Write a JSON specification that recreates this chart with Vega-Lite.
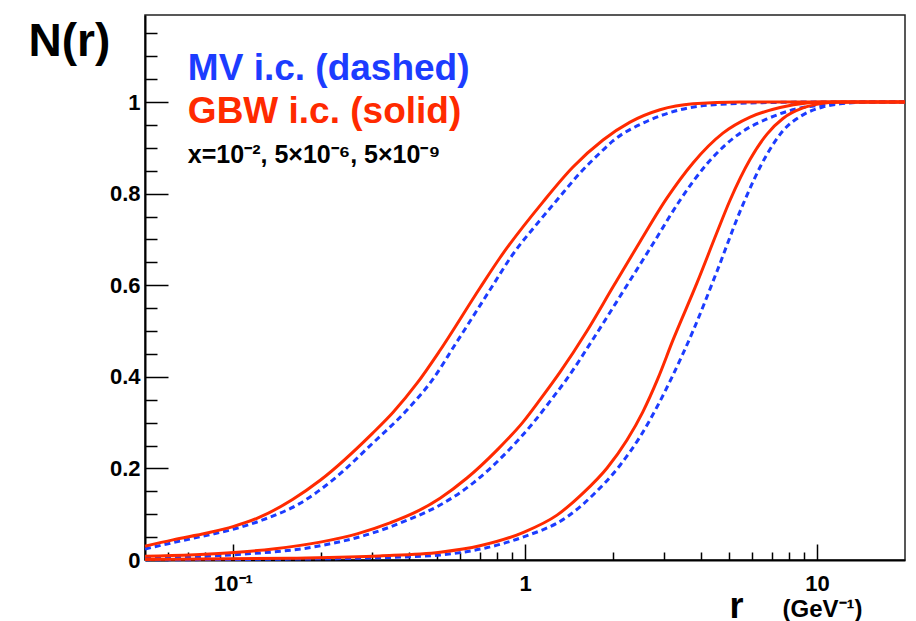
{
  "$schema": "https://vega.github.io/schema/vega-lite/v6.json",
  "width": 760,
  "height": 545,
  "autosize": {"type": "none"},
  "padding": {"left": 145, "top": 15, "right": 11, "bottom": 61},
  "background": "white",
  "config": {
    "view": {"stroke": "#222", "strokeWidth": 1.5},
    "font": "Liberation Sans"
  },
  "datasets": {
    "curves": [
      {"ic": "MV", "x": "1e-2", "r": 0.05, "N": 0.024},
      {"ic": "MV", "x": "1e-2", "r": 0.0623, "N": 0.038},
      {"ic": "MV", "x": "1e-2", "r": 0.0815, "N": 0.054},
      {"ic": "MV", "x": "1e-2", "r": 0.1, "N": 0.067},
      {"ic": "MV", "x": "1e-2", "r": 0.127, "N": 0.088},
      {"ic": "MV", "x": "1e-2", "r": 0.17, "N": 0.124},
      {"ic": "MV", "x": "1e-2", "r": 0.22, "N": 0.175},
      {"ic": "MV", "x": "1e-2", "r": 0.301, "N": 0.255},
      {"ic": "MV", "x": "1e-2", "r": 0.395, "N": 0.328},
      {"ic": "MV", "x": "1e-2", "r": 0.484, "N": 0.395},
      {"ic": "MV", "x": "1e-2", "r": 0.576, "N": 0.47},
      {"ic": "MV", "x": "1e-2", "r": 0.759, "N": 0.59},
      {"ic": "MV", "x": "1e-2", "r": 0.903, "N": 0.665},
      {"ic": "MV", "x": "1e-2", "r": 1.126, "N": 0.742},
      {"ic": "MV", "x": "1e-2", "r": 1.287, "N": 0.786},
      {"ic": "MV", "x": "1e-2", "r": 1.543, "N": 0.845},
      {"ic": "MV", "x": "1e-2", "r": 1.835, "N": 0.893},
      {"ic": "MV", "x": "1e-2", "r": 2.0, "N": 0.915},
      {"ic": "MV", "x": "1e-2", "r": 2.62, "N": 0.958},
      {"ic": "MV", "x": "1e-2", "r": 3.39, "N": 0.983},
      {"ic": "MV", "x": "1e-2", "r": 4.65, "N": 0.995},
      {"ic": "MV", "x": "1e-2", "r": 7.07, "N": 0.999},
      {"ic": "MV", "x": "1e-2", "r": 9.0, "N": 1.0},
      {"ic": "MV", "x": "1e-2", "r": 20, "N": 1.0},

      {"ic": "GBW", "x": "1e-2", "r": 0.05, "N": 0.03},
      {"ic": "GBW", "x": "1e-2", "r": 0.0623, "N": 0.044},
      {"ic": "GBW", "x": "1e-2", "r": 0.0815, "N": 0.059},
      {"ic": "GBW", "x": "1e-2", "r": 0.1, "N": 0.073},
      {"ic": "GBW", "x": "1e-2", "r": 0.124, "N": 0.094},
      {"ic": "GBW", "x": "1e-2", "r": 0.16, "N": 0.132},
      {"ic": "GBW", "x": "1e-2", "r": 0.199, "N": 0.174},
      {"ic": "GBW", "x": "1e-2", "r": 0.301, "N": 0.277},
      {"ic": "GBW", "x": "1e-2", "r": 0.353, "N": 0.322},
      {"ic": "GBW", "x": "1e-2", "r": 0.427, "N": 0.386},
      {"ic": "GBW", "x": "1e-2", "r": 0.512, "N": 0.458},
      {"ic": "GBW", "x": "1e-2", "r": 0.701, "N": 0.594},
      {"ic": "GBW", "x": "1e-2", "r": 0.821, "N": 0.66},
      {"ic": "GBW", "x": "1e-2", "r": 1.153, "N": 0.782},
      {"ic": "GBW", "x": "1e-2", "r": 1.46, "N": 0.858},
      {"ic": "GBW", "x": "1e-2", "r": 1.85, "N": 0.917},
      {"ic": "GBW", "x": "1e-2", "r": 2.29, "N": 0.956},
      {"ic": "GBW", "x": "1e-2", "r": 2.9, "N": 0.983},
      {"ic": "GBW", "x": "1e-2", "r": 3.76, "N": 0.996},
      {"ic": "GBW", "x": "1e-2", "r": 5.45, "N": 1.0},
      {"ic": "GBW", "x": "1e-2", "r": 20, "N": 1.0},

      {"ic": "MV", "x": "5e-6", "r": 0.05, "N": 0.004},
      {"ic": "MV", "x": "5e-6", "r": 0.098, "N": 0.011},
      {"ic": "MV", "x": "5e-6", "r": 0.199, "N": 0.031},
      {"ic": "MV", "x": "5e-6", "r": 0.301, "N": 0.059},
      {"ic": "MV", "x": "5e-6", "r": 0.395, "N": 0.087},
      {"ic": "MV", "x": "5e-6", "r": 0.512, "N": 0.12},
      {"ic": "MV", "x": "5e-6", "r": 0.664, "N": 0.168},
      {"ic": "MV", "x": "5e-6", "r": 0.868, "N": 0.236},
      {"ic": "MV", "x": "5e-6", "r": 1.065, "N": 0.299},
      {"ic": "MV", "x": "5e-6", "r": 1.247, "N": 0.355},
      {"ic": "MV", "x": "5e-6", "r": 1.393, "N": 0.396},
      {"ic": "MV", "x": "5e-6", "r": 1.709, "N": 0.482},
      {"ic": "MV", "x": "5e-6", "r": 2.235, "N": 0.6},
      {"ic": "MV", "x": "5e-6", "r": 2.74, "N": 0.69},
      {"ic": "MV", "x": "5e-6", "r": 3.39, "N": 0.785},
      {"ic": "MV", "x": "5e-6", "r": 4.2, "N": 0.865},
      {"ic": "MV", "x": "5e-6", "r": 5.45, "N": 0.932},
      {"ic": "MV", "x": "5e-6", "r": 6.74, "N": 0.963},
      {"ic": "MV", "x": "5e-6", "r": 8.25, "N": 0.983},
      {"ic": "MV", "x": "5e-6", "r": 10.8, "N": 0.995},
      {"ic": "MV", "x": "5e-6", "r": 12.0, "N": 0.998},
      {"ic": "MV", "x": "5e-6", "r": 14.0, "N": 1.0},
      {"ic": "MV", "x": "5e-6", "r": 20, "N": 1.0},

      {"ic": "GBW", "x": "5e-6", "r": 0.05, "N": 0.008},
      {"ic": "GBW", "x": "5e-6", "r": 0.098, "N": 0.016},
      {"ic": "GBW", "x": "5e-6", "r": 0.137, "N": 0.024},
      {"ic": "GBW", "x": "5e-6", "r": 0.199, "N": 0.039},
      {"ic": "GBW", "x": "5e-6", "r": 0.266, "N": 0.057},
      {"ic": "GBW", "x": "5e-6", "r": 0.345, "N": 0.081},
      {"ic": "GBW", "x": "5e-6", "r": 0.427, "N": 0.106},
      {"ic": "GBW", "x": "5e-6", "r": 0.512, "N": 0.135},
      {"ic": "GBW", "x": "5e-6", "r": 0.633, "N": 0.179},
      {"ic": "GBW", "x": "5e-6", "r": 0.802, "N": 0.24},
      {"ic": "GBW", "x": "5e-6", "r": 0.984, "N": 0.301},
      {"ic": "GBW", "x": "5e-6", "r": 1.126, "N": 0.35},
      {"ic": "GBW", "x": "5e-6", "r": 1.318, "N": 0.41},
      {"ic": "GBW", "x": "5e-6", "r": 1.63, "N": 0.5},
      {"ic": "GBW", "x": "5e-6", "r": 2.0, "N": 0.596},
      {"ic": "GBW", "x": "5e-6", "r": 2.476, "N": 0.695},
      {"ic": "GBW", "x": "5e-6", "r": 3.06, "N": 0.79},
      {"ic": "GBW", "x": "5e-6", "r": 3.76, "N": 0.867},
      {"ic": "GBW", "x": "5e-6", "r": 4.76, "N": 0.932},
      {"ic": "GBW", "x": "5e-6", "r": 5.9, "N": 0.967},
      {"ic": "GBW", "x": "5e-6", "r": 7.47, "N": 0.988},
      {"ic": "GBW", "x": "5e-6", "r": 9.23, "N": 0.998},
      {"ic": "GBW", "x": "5e-6", "r": 10.45, "N": 1.0},
      {"ic": "GBW", "x": "5e-6", "r": 20, "N": 1.0},

      {"ic": "MV", "x": "5e-9", "r": 0.05, "N": 0.0005},
      {"ic": "MV", "x": "5e-9", "r": 0.157, "N": 0.002},
      {"ic": "MV", "x": "5e-9", "r": 0.318, "N": 0.005},
      {"ic": "MV", "x": "5e-9", "r": 0.512, "N": 0.011},
      {"ic": "MV", "x": "5e-9", "r": 0.718, "N": 0.025},
      {"ic": "MV", "x": "5e-9", "r": 0.984, "N": 0.05},
      {"ic": "MV", "x": "5e-9", "r": 1.393, "N": 0.094},
      {"ic": "MV", "x": "5e-9", "r": 1.709, "N": 0.142},
      {"ic": "MV", "x": "5e-9", "r": 2.116, "N": 0.207},
      {"ic": "MV", "x": "5e-9", "r": 2.476, "N": 0.269},
      {"ic": "MV", "x": "5e-9", "r": 2.83, "N": 0.334},
      {"ic": "MV", "x": "5e-9", "r": 3.19, "N": 0.4},
      {"ic": "MV", "x": "5e-9", "r": 3.76, "N": 0.5},
      {"ic": "MV", "x": "5e-9", "r": 4.54, "N": 0.63},
      {"ic": "MV", "x": "5e-9", "r": 5.53, "N": 0.771},
      {"ic": "MV", "x": "5e-9", "r": 6.74, "N": 0.886},
      {"ic": "MV", "x": "5e-9", "r": 7.64, "N": 0.937},
      {"ic": "MV", "x": "5e-9", "r": 8.95, "N": 0.972},
      {"ic": "MV", "x": "5e-9", "r": 10.45, "N": 0.989},
      {"ic": "MV", "x": "5e-9", "r": 12.0, "N": 0.996},
      {"ic": "MV", "x": "5e-9", "r": 15.2, "N": 1.0},
      {"ic": "MV", "x": "5e-9", "r": 20, "N": 1.0},

      {"ic": "GBW", "x": "5e-9", "r": 0.05, "N": 0.001},
      {"ic": "GBW", "x": "5e-9", "r": 0.157, "N": 0.004},
      {"ic": "GBW", "x": "5e-9", "r": 0.318, "N": 0.009},
      {"ic": "GBW", "x": "5e-9", "r": 0.512, "N": 0.017},
      {"ic": "GBW", "x": "5e-9", "r": 0.701, "N": 0.031},
      {"ic": "GBW", "x": "5e-9", "r": 0.984, "N": 0.06},
      {"ic": "GBW", "x": "5e-9", "r": 1.287, "N": 0.098},
      {"ic": "GBW", "x": "5e-9", "r": 1.58, "N": 0.146},
      {"ic": "GBW", "x": "5e-9", "r": 1.91, "N": 0.201},
      {"ic": "GBW", "x": "5e-9", "r": 2.235, "N": 0.262},
      {"ic": "GBW", "x": "5e-9", "r": 2.53, "N": 0.323},
      {"ic": "GBW", "x": "5e-9", "r": 2.85, "N": 0.396},
      {"ic": "GBW", "x": "5e-9", "r": 3.21, "N": 0.48},
      {"ic": "GBW", "x": "5e-9", "r": 3.88, "N": 0.605},
      {"ic": "GBW", "x": "5e-9", "r": 4.54, "N": 0.715},
      {"ic": "GBW", "x": "5e-9", "r": 5.03, "N": 0.785},
      {"ic": "GBW", "x": "5e-9", "r": 5.9, "N": 0.875},
      {"ic": "GBW", "x": "5e-9", "r": 6.74, "N": 0.93},
      {"ic": "GBW", "x": "5e-9", "r": 7.64, "N": 0.964},
      {"ic": "GBW", "x": "5e-9", "r": 8.95, "N": 0.987},
      {"ic": "GBW", "x": "5e-9", "r": 10.45, "N": 0.997},
      {"ic": "GBW", "x": "5e-9", "r": 12.0, "N": 1.0},
      {"ic": "GBW", "x": "5e-9", "r": 20, "N": 1.0}
    ]
  },
  "data": {"name": "curves"},
  "resolve": {"axis": {"x": "independent", "y": "independent"}},
  "layer": [
    {
      "transform": [{"filter": "datum.ic === 'MV'"}],
      "mark": {"type": "line", "color": "#1c3cff", "strokeWidth": 3, "strokeDash": [6, 4], "interpolate": "monotone"},
      "encoding": {
        "x": {
          "field": "r", "type": "quantitative",
          "scale": {"type": "log", "domain": [0.05, 20], "nice": false},
          "axis": {
            "orient": "bottom",
            "values": [0.06, 0.07, 0.08, 0.09, 0.2, 0.3, 0.4, 0.5, 0.6, 0.7, 0.8, 0.9, 2, 3, 4, 5, 6, 7, 8, 9],
            "labels": false, "domain": false, "grid": false,
            "tickSize": -8, "tickColor": "black", "tickWidth": 1.5,
            "title": "(GeV⁻¹)", "titleFont": "Liberation Sans", "titleFontSize": 24, "titleFontWeight": "bold",
            "titleColor": "black", "titleAlign": "left", "titleBaseline": "alphabetic",
            "titleX": 637, "titleY": 56, "titleAngle": 0
          }
        },
        "y": {
          "field": "N", "type": "quantitative",
          "scale": {"domain": [0, 1.19], "nice": false},
          "axis": {
            "orient": "left",
            "values": [0.05, 0.1, 0.15, 0.25, 0.3, 0.35, 0.45, 0.5, 0.55, 0.65, 0.7, 0.75, 0.85, 0.9, 0.95, 1.05, 1.1, 1.15],
            "labels": false, "domain": false, "grid": false,
            "tickSize": -12, "tickColor": "black", "tickWidth": 1.5,
            "title": null
          }
        },
        "detail": {"field": "x"}
      }
    },
    {
      "transform": [{"filter": "datum.ic === 'GBW'"}],
      "mark": {"type": "line", "color": "#ff2a00", "strokeWidth": 3, "interpolate": "monotone"},
      "encoding": {
        "x": {
          "field": "r", "type": "quantitative",
          "scale": {"type": "log", "domain": [0.05, 20], "nice": false},
          "axis": {
            "orient": "bottom",
            "values": [0.1, 1, 10],
            "labelExpr": "datum.value < 0.5 ? '10⁻¹' : (datum.value < 5 ? '1' : '10')",
            "labelFont": "Liberation Sans", "labelFontSize": 22, "labelFontWeight": "bold", "labelColor": "black",
            "labelPadding": 29, "labelFlush": false, "labelOverlap": false, "labelBound": false,
            "domain": true, "domainColor": "black", "domainWidth": 2, "grid": false,
            "tickSize": -16, "tickColor": "black", "tickWidth": 1.5,
            "title": "r", "titleFont": "Liberation Sans", "titleFontSize": 36, "titleFontWeight": "bold",
            "titleColor": "black", "titleAlign": "left", "titleBaseline": "alphabetic",
            "titleX": 584, "titleY": 57, "titleAngle": 0
          }
        },
        "y": {
          "field": "N", "type": "quantitative",
          "scale": {"domain": [0, 1.19], "nice": false},
          "axis": {
            "orient": "left",
            "values": [0, 0.2, 0.4, 0.6, 0.8, 1],
            "format": "~g",
            "labelFont": "Liberation Sans", "labelFontSize": 22, "labelFontWeight": "bold", "labelColor": "black",
            "labelPadding": 28, "labelOverlap": false, "labelBound": false, "labelFlush": false,
            "domain": true, "domainColor": "black", "domainWidth": 2, "grid": false,
            "tickSize": -23, "tickColor": "black", "tickWidth": 1.5,
            "title": "N(r)", "titleFont": "Liberation Sans", "titleFontSize": 46, "titleFontWeight": "bold",
            "titleColor": "black", "titleAlign": "left", "titleBaseline": "alphabetic",
            "titleAngle": 0, "titleX": -117, "titleY": 40
          }
        },
        "detail": {"field": "x"}
      }
    },
    {
      "data": {"values": [{}]},
      "mark": {"type": "text", "text": "MV i.c. (dashed)", "align": "left", "baseline": "alphabetic", "font": "Liberation Sans", "fontSize": 37, "fontWeight": "bold", "color": "#1c3cff"},
      "encoding": {
        "x": {"datum": 0.0701, "type": "quantitative", "axis": null},
        "y": {"datum": 1.049, "type": "quantitative", "axis": null}
      }
    },
    {
      "data": {"values": [{}]},
      "mark": {"type": "text", "text": "GBW i.c. (solid)", "align": "left", "baseline": "alphabetic", "font": "Liberation Sans", "fontSize": 37, "fontWeight": "bold", "color": "#ff2a00"},
      "encoding": {
        "x": {"datum": 0.0701, "type": "quantitative", "axis": null},
        "y": {"datum": 0.954, "type": "quantitative", "axis": null}
      }
    },
    {
      "data": {"values": [{}]},
      "mark": {"type": "text", "text": "x=10⁻², 5×10⁻⁶, 5×10⁻⁹", "align": "left", "baseline": "alphabetic", "font": "Liberation Sans", "fontSize": 25, "fontWeight": "bold", "color": "black"},
      "encoding": {
        "x": {"datum": 0.0701, "type": "quantitative", "axis": null},
        "y": {"datum": 0.867, "type": "quantitative", "axis": null}
      }
    }
  ]
}
